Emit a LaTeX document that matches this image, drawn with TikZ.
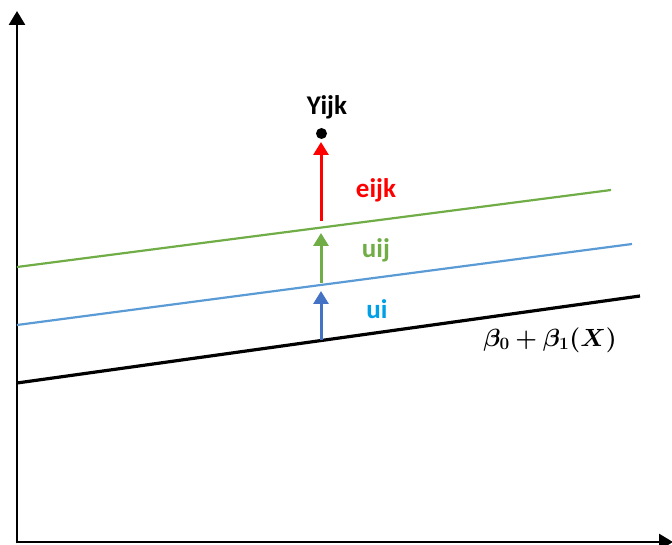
\documentclass[tikz,border=0pt]{standalone}
\usepackage{fontspec}
\setmainfont{Carlito}
\usepackage{amsmath}
\usepackage{bm}
\usetikzlibrary{arrows.meta}
\definecolor{cgreen}{HTML}{70AD47}
\definecolor{cblueline}{HTML}{5B9BD5}
\definecolor{cbluearrow}{HTML}{4472C4}
\definecolor{ccyan}{HTML}{00A0E6}
\definecolor{cred}{HTML}{FF0000}
\tikzset{
  axis/.style={line width=2.7pt,-{Triangle[length=14pt,width=16pt]}},
  vec/.style={line width=3pt,-{Triangle[length=13pt,width=15pt]}},
  lbl/.style={font=\bfseries\fontsize{27}{30}\selectfont,inner sep=0pt}
}
\begin{document}
\begin{tikzpicture}[x=1pt,y=-1pt]
\useasboundingbox (0,0) rectangle (672,545);
% axes
\coordinate (o) at (17,542);
\coordinate (ytop) at (17,11);
\coordinate (xend) at (673,542);
\draw[axis] (17,543.35) -- (ytop);
\draw[axis] (15.65,542) -- (xend);
% lines
\coordinate (k0) at (17,383);
\coordinate (k1) at (640,296);
\coordinate (b0) at (17,325);
\coordinate (b1) at (632,244);
\coordinate (g0) at (17,267);
\coordinate (g1) at (611,190);
\draw[line width=3.2pt] (k0) -- (k1);
\draw[cblueline,line width=2.2pt] (b0) -- (b1);
\draw[cgreen,line width=2.2pt] (g0) -- (g1);
% vectors
\coordinate (ua) at (321,340);
\coordinate (ub) at (321,291);
\coordinate (va) at (321,283);
\coordinate (vb) at (321,233);
\coordinate (wa) at (321,221);
\coordinate (wb) at (321,142);
\draw[vec,cbluearrow] (ua) -- (ub);
\draw[vec,cgreen] (va) -- (vb);
\draw[vec,cred] (wa) -- (wb);
% point
\fill (321.5,133.5) circle (5.5pt);
\node[lbl] (y) at (327,107) {Yijk};
\node[lbl,text=cred] (e) at (376,190) {eijk};
\node[lbl,text=cgreen] (uij) at (376,250) {uij};
\node[lbl,text=ccyan] (ui) at (377,309) {ui};
\node[inner sep=0pt,font=\fontsize{27}{32}\selectfont] (beta) at (550,340) {$\bm{\beta_0+\beta_1(X)}$};
\end{tikzpicture}
\end{document}
